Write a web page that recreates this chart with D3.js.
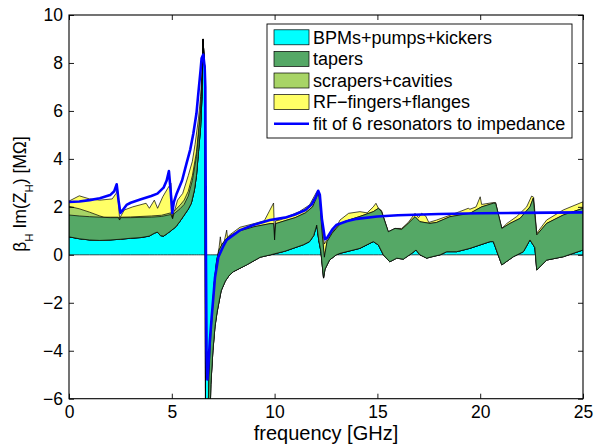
<!DOCTYPE html>
<html><head><meta charset="utf-8">
<script src="https://cdn.jsdelivr.net/npm/d3@7"></script>
<style>
body{margin:0;background:#fff}
svg{display:block}
text{font-family:"Liberation Sans",Arial,Helvetica,sans-serif;fill:#000}
</style>
</head><body>
<svg id="c" width="594" height="445"></svg>
<script>
// ---- data: [frequency GHz, stacked top of layer in MOhm] ----
const bpmTop = [[0,0.75],[0.5,0.67],[1,0.62],[1.5,0.6],[2,0.62],[2.5,0.65],[3,0.69],[3.5,0.72],[3.9,0.78],[4.15,0.9],[4.3,0.95],[4.45,0.8],[4.6,0.78],[4.8,0.9],[5,1.03],[5.2,1.17],[5.4,1.4],[5.6,1.65],[5.8,1.9],[5.95,2.15],[6.1,2.7],[6.2,3.3],[6.3,4.3],[6.4,5.3],[6.47,6.6],[6.52,9.0],[6.57,8.2],[6.62,7.6],[6.64,-6.8],[6.86,-6.8],[6.9,-5.4],[7,-4.0],[7.1,-3.0],[7.2,-2.4],[7.4,-1.5],[7.6,-1.1],[7.8,-0.85],[8,-0.7],[8.64,-0.42],[9.3,-0.1],[9.8,0],[10.5,0.15],[10.9,0.27],[11.4,0.42],[11.7,0.55],[11.9,0.8],[12.05,1.24],[12.15,0.6],[12.25,0.15],[12.38,-0.97],[12.45,-0.6],[12.67,-0.22],[13,0],[13.18,0.06],[14.15,0.27],[14.8,0.55],[15.05,0.41],[15.29,0],[15.6,-0.29],[15.94,-0.14],[16.26,-0.18],[16.67,0.06],[16.88,0.2],[17.07,0],[17.4,-0.14],[17.56,-0.1],[18.05,0],[18.37,0.13],[18.86,0.13],[19.5,0.27],[20.48,0.55],[20.64,0.55],[21.05,-0.42],[21.61,-0.08],[22.1,0.13],[22.42,0.62],[22.66,0.3],[22.75,-0.63],[23.23,-0.22],[24.04,-0.08],[25,0.2]];

const taperTop = [[0,1.66],[0.5,1.62],[1,1.59],[1.5,1.57],[2,1.55],[2.4,1.55],[2.46,1.45],[2.52,1.55],[3,1.55],[3.5,1.56],[4,1.57],[4.5,1.6],[4.95,1.68],[5.04,1.5],[5.1,1.7],[5.2,1.78],[5.4,1.92],[5.6,2.1],[5.8,2.45],[6,3.1],[6.2,4.1],[6.3,5.0],[6.4,6.0],[6.47,7.2],[6.52,9.0],[6.57,8.2],[6.62,7.6],[6.64,-6.8],[6.76,-6.8],[6.8,-5.3],[6.9,-3.3],[6.97,-2.5],[7.05,-1.3],[7.18,-0.25],[7.3,0.2],[7.45,0.45],[7.67,0.69],[8,0.88],[8.32,1.0],[9,1.17],[9.78,1.3],[9.95,1.3],[10,0.62],[10.05,1.3],[10.5,1.42],[11,1.55],[11.5,1.75],[11.85,2.0],[12,2.3],[12.12,2.6],[12.2,2.2],[12.3,1.0],[12.42,-0.1],[12.55,0.55],[12.8,0.9],[13,1.1],[13.2,1.3],[13.6,1.45],[14.15,1.6],[14.8,1.8],[15.05,1.94],[15.2,1.8],[15.53,0.96],[15.86,1.1],[16.18,1.06],[16.5,1.31],[16.83,1.59],[17.07,1.38],[17.56,1.31],[17.88,1.35],[18.53,1.59],[19.5,1.73],[20.07,2.0],[20.64,2.15],[20.75,2.15],[21.05,1.1],[21.45,1.31],[21.94,1.52],[22.42,2.0],[22.58,2.36],[22.75,0.83],[23.23,1.31],[24.04,1.66],[25,1.94]];

const scraperTop = [[0,2.02],[0.5,1.92],[1,1.78],[1.5,1.62],[1.7,1.57],[2,1.57],[2.4,1.57],[2.46,1.45],[2.52,1.57],[3,1.58],[3.5,1.6],[4,1.62],[4.5,1.65],[4.95,1.75],[5.04,1.52],[5.1,1.8],[5.2,1.9],[5.4,2.07],[5.6,2.28],[5.8,2.65],[6,3.3],[6.2,4.3],[6.3,5.2],[6.4,6.2],[6.47,7.4],[6.52,9.0],[6.57,8.2],[6.62,7.6],[6.64,-6.8],[6.76,-6.8],[6.8,-5.3],[6.9,-3.3],[6.97,-2.5],[7.05,-1.3],[7.18,-0.25],[7.3,0.2],[7.45,0.45],[7.67,0.69],[8,0.88],[8.32,1.0],[9,1.17],[9.78,1.3],[9.95,1.3],[10,0.62],[10.05,1.3],[10.5,1.42],[11,1.55],[11.5,1.75],[11.85,2.0],[12,2.3],[12.12,2.6],[12.2,2.2],[12.3,1.0],[12.42,-0.1],[12.55,0.55],[12.8,0.9],[13,1.1],[13.2,1.3],[13.6,1.45],[14.15,1.6],[14.8,1.8],[15.05,1.94],[15.2,1.8],[15.53,0.96],[15.86,1.1],[16.18,1.06],[16.5,1.31],[16.83,1.59],[17.07,1.38],[17.56,1.31],[17.88,1.35],[18.53,1.59],[19.5,1.73],[20.07,2.0],[20.64,2.15],[20.75,2.15],[21.05,1.1],[21.45,1.31],[21.94,1.52],[22.42,2.0],[22.58,2.36],[22.75,0.83],[23.23,1.31],[24.04,1.66],[25,1.94]];

const rfTop = [[0,2.24],[0.5,2.46],[1,2.33],[1.5,2.28],[2.1,2.33],[2.29,2.56],[2.36,2.72],[2.46,1.52],[2.69,1.87],[3.1,2.0],[3.75,2.15],[3.91,1.94],[4.15,2.28],[4.31,1.94],[4.56,2.42],[4.8,2.77],[4.96,2.98],[5.04,1.55],[5.28,2.28],[5.53,2.56],[5.8,3.3],[6,3.9],[6.13,4.6],[6.3,5.7],[6.4,6.6],[6.47,7.6],[6.52,9.0],[6.57,8.2],[6.62,7.6],[6.64,-6.8],[6.76,-6.8],[6.8,-5.3],[6.9,-3.3],[6.97,-2.5],[7.05,-1.3],[7.18,-0.25],[7.3,0.3],[7.36,0.75],[7.42,0.35],[7.55,0.55],[7.67,1.03],[7.72,0.6],[7.8,0.82],[8.32,1.15],[9,1.3],[9.5,1.42],[9.95,2.16],[10,0.62],[10.05,1.42],[10.25,1.45],[10.7,1.62],[11.2,1.8],[11.7,2.08],[12.05,2.63],[12.12,2.6],[12.25,1.6],[12.42,0.45],[12.55,0.65],[12.8,0.95],[13,1.15],[13.18,1.45],[13.6,1.73],[14.15,1.8],[14.5,1.75],[14.8,2.0],[14.93,2.15],[15.05,1.94],[15.2,1.85],[15.53,0.96],[15.86,1.1],[16.18,1.1],[16.5,1.35],[16.83,1.73],[17,1.55],[17.15,1.73],[17.35,1.62],[17.5,1.35],[17.88,1.45],[18.53,1.65],[19,1.8],[19.42,1.94],[19.5,1.9],[19.8,2.0],[20,2.42],[20.07,2.1],[20.64,2.18],[20.75,2.18],[21.05,1.1],[21.3,1.31],[21.78,1.6],[22.26,2.0],[22.5,2.45],[22.6,2.4],[22.75,0.9],[23.23,1.45],[24.04,1.87],[25,2.21]];

const fitValues = [[0,2.2],[0.5,2.22],[1,2.28],[1.5,2.36],[2,2.49],[2.2,2.65],[2.32,2.94],[2.42,2.2],[2.5,1.75],[2.6,1.85],[2.8,2.08],[3,2.17],[3.5,2.32],[4,2.45],[4.3,2.55],[4.6,2.8],[4.75,3.1],[4.86,3.49],[4.95,2.6],[5.02,1.75],[5.1,2.2],[5.24,2.56],[5.5,3.1],[5.72,3.82],[5.9,4.4],[6.05,5.07],[6.2,5.9],[6.29,6.73],[6.4,7.7],[6.45,8.2],[6.53,8.35],[6.6,7.8],[6.63,7.0],[6.66,0],[6.69,-4],[6.73,-5.2],[6.78,-4.6],[6.85,-3.6],[6.94,-2.6],[7.1,-0.95],[7.26,-0.1],[7.5,0.35],[7.67,0.62],[8.32,1.03],[9,1.25],[9.78,1.45],[10.5,1.55],[11,1.68],[11.5,1.87],[11.8,2.1],[12,2.4],[12.12,2.67],[12.2,2.5],[12.3,1.5],[12.45,0.65],[12.55,0.7],[12.8,1.05],[13,1.24],[13.5,1.4],[14,1.5],[15,1.6],[16,1.65],[18,1.7],[20,1.73],[22,1.75],[25,1.77]];

const xTicks = [0,5,10,15,20,25];
const yTicks = [-6,-4,-2,0,2,4,6,8,10];
const legendLabels = ["BPMs+pumps+kickers","tapers","scrapers+cavities","RF\u2212fingers+flanges","fit of 6 resonators to impedance"];
const layerColors = ["#00FFFF","#55A866","#A8D466","#FFFF66"];
const fitColor = "#0000FF";

// ---- drawing ----
const svg = d3.select("#c");
const x = d3.scaleLinear().domain([0,25]).range([69,583]);
const y = d3.scaleLinear().domain([-6,10]).range([398.7,15]);

svg.append("defs").append("clipPath").attr("id","clip")
  .append("rect").attr("x",x(0)).attr("y",y(10)).attr("width",x(25)-x(0)).attr("height",y(-6)-y(10));

const g = svg.append("g").attr("clip-path","url(#clip)");
const lineGen = d3.line().x(d=>x(d[0])).y(d=>y(d[1]));
const bandGen = (upper, lower) =>
  d3.line().x(d=>x(d[0])).y(d=>y(d[1])).curve(d3.curveLinearClosed)(upper.concat(lower.slice().reverse()));

// BPM layer from 0
g.append("path")
  .attr("d", d3.area().x(d=>x(d[0])).y0(y(0)).y1(d=>y(d[1]))(bpmTop))
  .attr("fill",layerColors[0]).attr("stroke","#000").attr("stroke-width",0.7);
// upper layers (painted top-down so each lower layer covers the one above)
[[rfTop,3],[scraperTop,2],[taperTop,1]].forEach(([top,ci])=>{
  g.append("path").attr("d", bandGen(top,bpmTop))
    .attr("fill",layerColors[ci]).attr("stroke","#000").attr("stroke-width",0.7)
    .attr("stroke-linejoin","round");
});
// resonator fit
g.append("path").attr("d", lineGen(fitValues))
  .attr("fill","none").attr("stroke",fitColor).attr("stroke-width",2.6)
  .attr("stroke-linejoin","round");

// axes
const fmt = d3.format("d");
const styleAxis = sel => {
  sel.select(".domain").remove();
  sel.selectAll(".tick line").attr("stroke","#000").attr("stroke-width",0.9);
  sel.selectAll(".tick text").attr("font-size","17.5px").attr("fill","#000")
     .attr("font-family",'"Liberation Sans",Arial,Helvetica,sans-serif');
};
svg.append("g").attr("transform",`translate(0,${y(-6)})`)
  .call(d3.axisBottom(x).tickValues(xTicks).tickSizeInner(-5).tickSizeOuter(0).tickPadding(7).tickFormat(fmt)).call(styleAxis);
svg.append("g").attr("transform",`translate(0,${y(10)})`)
  .call(d3.axisTop(x).tickValues(xTicks).tickSizeInner(-5).tickSizeOuter(0).tickFormat(()=>"")).call(styleAxis);
svg.append("g").attr("transform",`translate(${x(0)},0)`)
  .call(d3.axisLeft(y).tickValues(yTicks).tickSizeInner(-5).tickSizeOuter(0).tickPadding(6).tickFormat(fmt)).call(styleAxis);
svg.append("g").attr("transform",`translate(${x(25)},0)`)
  .call(d3.axisRight(y).tickValues(yTicks).tickSizeInner(-5).tickSizeOuter(0).tickFormat(()=>"")).call(styleAxis);

svg.append("rect").attr("x",x(0)).attr("y",y(10)).attr("width",x(25)-x(0)).attr("height",y(-6)-y(10))
  .attr("fill","none").attr("stroke","#000").attr("stroke-width",1.1);

// axis labels
svg.append("text").attr("x",(x(0)+x(25))/2).attr("y",440).attr("text-anchor","middle")
  .attr("font-size","20px").text("frequency [GHz]");
const yl = svg.append("text").attr("transform",`translate(26,194) rotate(-90)`)
  .attr("text-anchor","middle").attr("font-size","17.5px");
yl.append("tspan").text("\u03B2");
yl.append("tspan").attr("font-size","11.5px").attr("dy",7).text("H");
yl.append("tspan").attr("dy",-7).text(" Im(Z");
yl.append("tspan").attr("font-size","11.5px").attr("dy",7).text("H");
yl.append("tspan").attr("dy",-7).text(") [M\u03A9]");

// legend
const lg = svg.append("g");
lg.append("rect").attr("x",267).attr("y",24).attr("width",305).attr("height",114)
  .attr("fill","#fff").attr("stroke","#000").attr("stroke-width",0.9);
legendLabels.forEach((lab,i)=>{
  const cy = 37.3 + i*21.6;
  if (i<4) {
    lg.append("rect").attr("x",274).attr("y",cy-7.5).attr("width",35).attr("height",15)
      .attr("fill",layerColors[i]).attr("stroke","#000").attr("stroke-width",0.7);
  } else {
    lg.append("line").attr("x1",274).attr("x2",309).attr("y1",cy).attr("y2",cy)
      .attr("stroke",fitColor).attr("stroke-width",2.6);
  }
  lg.append("text").attr("x",313).attr("y",cy+6.3).attr("font-size","18px").text(lab);
});
</script>
</body></html>
